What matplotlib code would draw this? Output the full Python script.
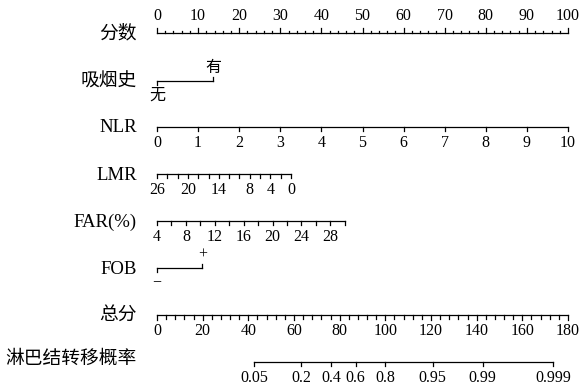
import numpy as np
import matplotlib
matplotlib.use("Agg")
import matplotlib.pyplot as plt

plt.rcParams['font.family'] = ['Liberation Serif', 'Noto Sans CJK SC', 'DejaVu Sans']

# ---------------- data ----------------
row_labels = ['分数', '吸烟史', 'NLR', 'LMR', 'FAR(%)', 'FOB', '总分', '淋巴结转移概率']

points_ticks = np.arange(0, 101, 10)
points_minor = np.arange(0, 101, 2)

smoking_levels = ['无', '有']
smoking_points = [0.0, 13.6]

nlr_ticks = np.arange(0, 11, 1)
nlr_range = [0, 10]
nlr_points_range = [0.0, 100.0]

lmr_ticks = np.arange(26, -1, -2)
lmr_labels = [26, 20, 14, 8, 4, 0]
lmr_range = [26, 0]
lmr_points_range = [0.0, 32.6]

far_ticks = np.arange(4, 31, 2)
far_labels = [4, 8, 12, 16, 20, 24, 28]
far_range = [4, 30]
far_points_range = [0.0, 45.7]

fob_levels = ['\u2212', '+']
fob_points = [0.0, 11.0]

total_ticks = np.arange(0, 181, 20)
total_minor = np.arange(0, 181, 4)
total_max = 180

prob_ticks = [0.05, 0.2, 0.4, 0.6, 0.8, 0.95, 0.99, 0.999]
prob_labels = ['0.05', '0.2', '0.4', '0.6', '0.8', '0.95', '0.99', '0.999']
lp_intercept = -6.141
lp_slope = 0.07525

# ---------------- layout ----------------
W, H = 580, 387
fig = plt.figure(figsize=(W / 100, H / 100), dpi=100)
ax = fig.add_axes([0, 0, 1, 1])
px_per_pt = 4.11
x0 = 157
ax.set_xlim(-x0 / px_per_pt, (W - x0) / px_per_pt)
ax.set_ylim(H, 0)
ax.axis('off')

row_y = [33, 81, 127, 174, 221, 268, 315, 362]
label_x = -20 / px_per_pt
lab_fs = 13.5
tick_fs = 11.5
lw = 0.9
col = '#000000'


def lin(v, vr, pr):
    v = np.asarray(v, dtype=float)
    return pr[0] + (v - vr[0]) / (vr[1] - vr[0]) * (pr[1] - pr[0])


for lab, y in zip(row_labels, row_y):
    dy = -3 if lab == '淋巴结转移概率' else 1
    ax.text(label_x, y + dy, lab, ha='right', va='center', fontsize=lab_fs, color=col)

# Points axis (ticks up, labels above)
y = row_y[0]
ax.plot([points_ticks[0], points_ticks[-1]], [y, y], color=col, lw=lw)
for p in points_minor:
    L = 5 if p % 10 == 0 else 2.5
    ax.plot([p, p], [y, y - L], color=col, lw=lw)
for p in points_ticks:
    ax.text(p, y - 9, str(p), ha='center', va='bottom', fontsize=tick_fs, color=col)


def binary_row(y, pts, levels):
    ax.plot([pts[0], pts[1]], [y, y], color=col, lw=lw)
    ax.plot([pts[0], pts[0]], [y, y + 4], color=col, lw=lw)
    ax.plot([pts[1], pts[1]], [y, y - 4], color=col, lw=lw)
    ax.text(pts[0], y + 7, levels[0], ha='center', va='top', fontsize=tick_fs, color=col)
    ax.text(pts[1], y - 5, levels[1], ha='center', va='bottom', fontsize=tick_fs, color=col)


binary_row(row_y[1], smoking_points, smoking_levels)


def cont_row(y, ticks, labels, vr, pr):
    xs = lin(ticks, vr, pr)
    ax.plot([xs.min(), xs.max()], [y, y], color=col, lw=lw)
    for xv in xs:
        ax.plot([xv, xv], [y, y + 4], color=col, lw=lw)
    for lv in labels:
        ax.text(float(lin(lv, vr, pr)), y + 8, str(lv), ha='center', va='top',
                fontsize=tick_fs, color=col)


cont_row(row_y[2], nlr_ticks, nlr_ticks, nlr_range, nlr_points_range)
cont_row(row_y[3], lmr_ticks, lmr_labels, lmr_range, lmr_points_range)
cont_row(row_y[4], far_ticks, far_labels, far_range, far_points_range)

binary_row(row_y[5], fob_points, fob_levels)

# Total points
y = row_y[6]
scale = 100.0 / total_max
ax.plot([0, total_max * scale], [y, y], color=col, lw=lw)
for t in total_minor:
    L = 4.5 if t % 20 == 0 else 3.5
    ax.plot([t * scale, t * scale], [y, y + L], color=col, lw=lw)
for t in total_ticks:
    ax.text(t * scale, y + 8, str(t), ha='center', va='top', fontsize=tick_fs, color=col)

# Probability
y = row_y[7]
pt = np.array(prob_ticks)
tp = (np.log(pt / (1 - pt)) - lp_intercept) / lp_slope
xs = tp * scale
ax.plot([xs[0], xs[-1]], [y, y], color=col, lw=lw)
for xv, lab in zip(xs, prob_labels):
    ax.plot([xv, xv], [y, y + 4], color=col, lw=lw)
    ax.text(xv, y + 8, lab, ha='center', va='top', fontsize=tick_fs, color=col)

fig.savefig('out.png', dpi=100)
